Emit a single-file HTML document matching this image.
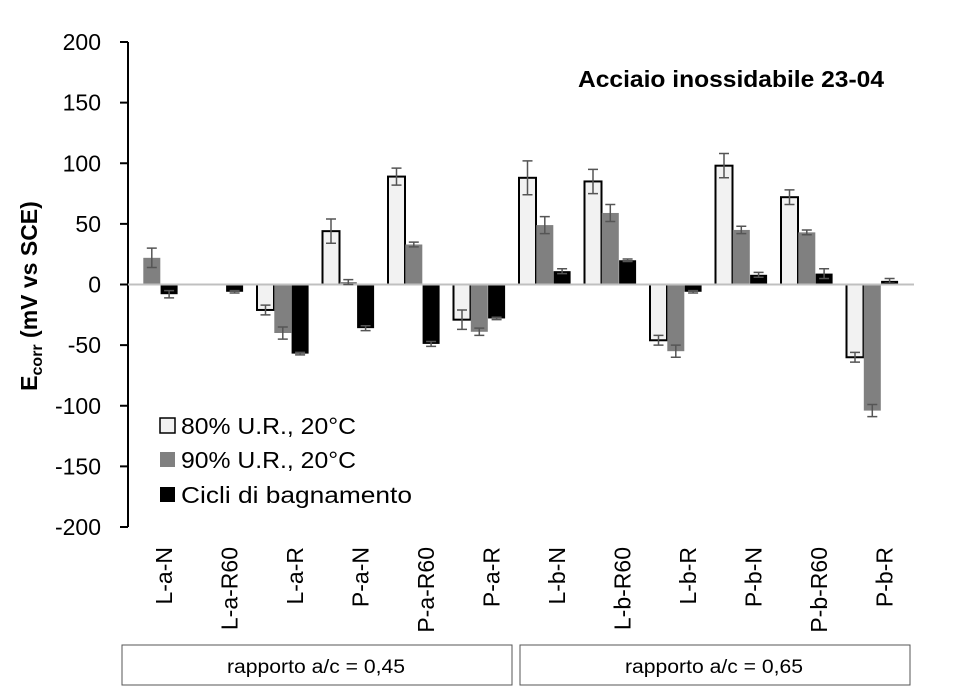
<!DOCTYPE html>
<html><head><meta charset="utf-8"><style>
body{margin:0;background:#fff;}
svg{display:block;font-family:"Liberation Sans",sans-serif;}
</style></head><body>
<svg id="chart" width="953" height="687" viewBox="0 0 953 687">
<g id="grid"></g>
<g id="bars"></g>
<g id="errs"></g>
<text x="884" y="87" text-anchor="end" font-size="23" font-weight="bold" textLength="306" lengthAdjust="spacingAndGlyphs">Acciaio inossidabile 23-04</text>
<text transform="translate(37,296) rotate(-90)" text-anchor="middle" font-size="23" font-weight="bold">E<tspan font-size="16" dy="5">corr</tspan><tspan dy="-5"> (mV vs SCE)</tspan></text>
<g>
<g><rect x="160" y="418" width="15" height="15" fill="#f2f2f2" stroke="#000" stroke-width="1.5"/><text x="181" y="434" font-size="23" textLength="175" lengthAdjust="spacingAndGlyphs">80% U.R., 20°C</text></g>
<g><rect x="160" y="452" width="15" height="15" fill="#808080"/><text x="181" y="468" font-size="23" textLength="175" lengthAdjust="spacingAndGlyphs">90% U.R., 20°C</text></g>
<g><rect x="160" y="487" width="15" height="15" fill="#000"/><text x="181" y="503" font-size="23" textLength="231" lengthAdjust="spacingAndGlyphs">Cicli di bagnamento</text></g>
</g>
<g><rect x="122" y="645" width="390" height="40" fill="none" stroke="#555" stroke-width="1"/><text x="316" y="673" text-anchor="middle" font-size="19" textLength="178" lengthAdjust="spacingAndGlyphs">rapporto a/c = 0,45</text></g>
<g><rect x="520" y="645" width="390" height="40" fill="none" stroke="#555" stroke-width="1"/><text x="714" y="673" text-anchor="middle" font-size="19" textLength="178" lengthAdjust="spacingAndGlyphs">rapporto a/c = 0,65</text></g>
</svg>
<script>
const categories=["L-a-N","L-a-R60","L-a-R","P-a-N","P-a-R60","P-a-R","L-b-N","L-b-R60","L-b-R","P-b-N","P-b-R60","P-b-R"];
const s80=[0,0,-21,44,89,-29,88,85,-46,98,72,-60];
const e80=[0,0,4,10,7,8,14,10,4,10,6,4];
const s90=[22,0,-40,2,33,-39,49,59,-55,45,43,-104];
const e90=[8,0,5,2,2,3,7,7,5,3,2,5];
const sCyc=[-8,-6,-57,-36,-49,-28,11,20,-6,8,9,3];
const eCyc=[3,1,1,2,2,1,2,1,1,2,4,2];
const yTicks=[200,150,100,50,0,-50,-100,-150,-200];

const NS="http://www.w3.org/2000/svg";
const svg=document.getElementById('chart');
const X0=128,X1=914,Y0=284.5,K=485/400;
const cw=(X1-X0)/categories.length;
const y=v=>Y0-v*K;
const cx=i=>X0+i*cw;
function mk(tag,attrs,parent){const e=document.createElementNS(NS,tag);for(const k in attrs)e.setAttribute(k,attrs[k]);(parent||svg).appendChild(e);return e;}
const grid=document.getElementById('grid'),bars=document.getElementById('bars'),errs=document.getElementById('errs');
let ax=mk('line',{x1:X0,x2:X0,y1:y(200),y2:y(-200),stroke:'#000','stroke-width':2},grid);


yTicks.forEach(t=>{
 const tk=mk('line',{x1:X0-8,x2:X0,y1:y(t),y2:y(t),stroke:'#000','stroke-width':2},grid);
 
 
 const tx=mk('text',{x:101,y:y(t)+8,'text-anchor':'end','font-size':23},grid);
 tx.textContent=t;
 
 
});
const series=[[s80,e80,'#f2f2f2','80'],[s90,e90,'#808080','90'],[sCyc,eCyc,'#000','cicli']];
categories.forEach((c,i)=>{
 const lb=mk('text',{transform:`translate(${cx(i)+cw/2+11},547) rotate(-90)`,'text-anchor':'end','font-size':23},grid);
 lb.textContent=c;
 
 
 series.forEach((s,j)=>{
  const v=s[0][i],e=s[1][i];
  const bx=cx(i)-2+j*17.3;
  if(v!==0){
   const r=mk('rect',{x:bx,y:Math.min(y(v),Y0),width:17,height:Math.abs(y(v)-Y0),fill:s[2]},bars);
   if(j===0){r.setAttribute('stroke','#000');r.setAttribute('stroke-width','2');}
   
   
  }
  if(e>0){
   const m=bx+8.5;
   const g=mk('path',{d:`M${m},${y(v+e)}V${y(v-e)}M${m-5},${y(v+e)}h10M${m-5},${y(v-e)}h10`,stroke:'#555','stroke-width':1.5,fill:'none'},errs);
   
   
  }
 });
});
const z=mk('line',{x1:X0,x2:X1,y1:Y0,y2:Y0,stroke:'#c0c0c0','stroke-width':2},bars);


</script>
</body></html>
